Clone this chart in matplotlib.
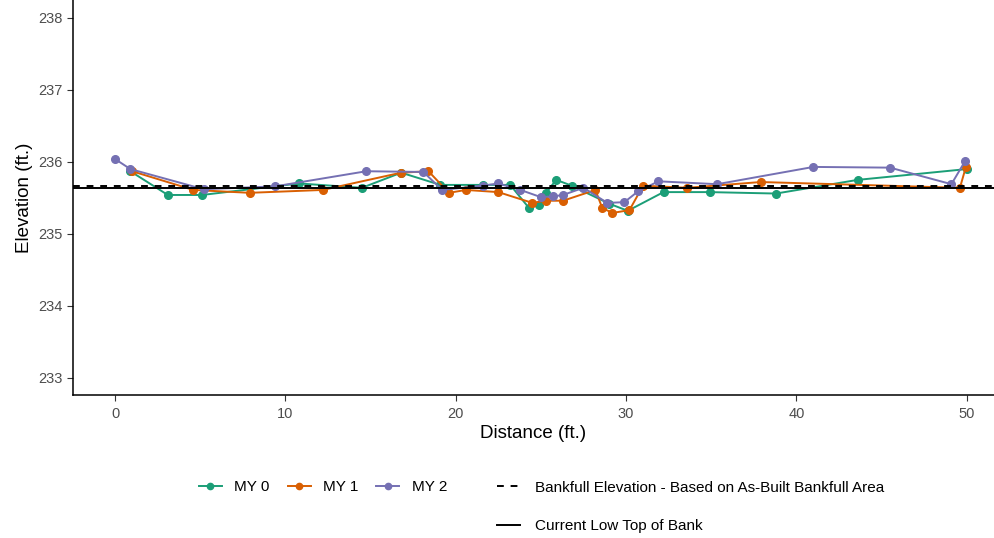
import matplotlib.pyplot as plt
from matplotlib.lines import Line2D

plt.rcParams['font.family'] = ['Liberation Sans', 'DejaVu Sans']

# Cross-section survey data (distance ft, elevation ft)
my0_x = [0.9, 3.1, 5.1, 10.8, 14.5, 16.8, 19.1, 21.6, 23.2, 24.3, 24.9, 25.3, 25.9,
         26.8, 29.0, 30.1, 32.2, 34.9, 38.8, 43.6, 50.0]
my0_y = [235.87, 235.54, 235.54, 235.70, 235.64, 235.85, 235.68, 235.68, 235.68, 235.36,
         235.40, 235.57, 235.75, 235.67, 235.42, 235.32, 235.58, 235.58, 235.56, 235.75, 235.90]

my1_x = [1.0, 4.6, 7.9, 12.2, 16.8, 18.4, 19.6, 20.6, 22.5, 24.5, 25.3, 26.3, 28.2,
         28.6, 29.2, 30.2, 31.0, 33.6, 37.9, 49.6, 49.95]
my1_y = [235.87, 235.61, 235.57, 235.61, 235.85, 235.87, 235.57, 235.61, 235.58, 235.43,
         235.46, 235.46, 235.61, 235.36, 235.29, 235.33, 235.67, 235.64, 235.72, 235.64, 235.93]

my2_x = [0.0, 0.9, 5.2, 9.4, 14.75, 18.1, 19.2, 21.6, 22.5, 23.8, 25.0, 25.7, 26.3,
         27.5, 28.9, 29.9, 30.7, 31.9, 35.35, 41.0, 45.5, 49.1, 49.9]
my2_y = [236.04, 235.90, 235.62, 235.66, 235.87, 235.86, 235.61, 235.67, 235.70, 235.61,
         235.51, 235.52, 235.54, 235.64, 235.43, 235.44, 235.59, 235.73, 235.69, 235.93,
         235.92, 235.69, 236.01]

bankfull_elev = 235.665
low_top_bank = 235.635

colors = ['#1B9E77', '#D95F02', '#7570B3']
labels = ['MY 0', 'MY 1', 'MY 2']

fig = plt.figure(figsize=(9.94, 5.38), dpi=100)
ax = fig.add_axes([0.0734, 0.2658, 0.9266, 0.7342])

for xs, ys, c, lab in zip([my0_x, my1_x, my2_x], [my0_y, my1_y, my2_y], colors, labels):
    ax.plot(xs, ys, color=c, lw=1.4, marker='o', ms=5.5, label=lab, zorder=2)

ax.axhline(low_top_bank, color='black', lw=1.4, zorder=3)
ax.axhline(bankfull_elev, color='black', lw=1.4, ls=(0, (3.5, 3.5)), zorder=4)

ax.set_xlim(-2.47, 51.6)
ax.set_ylim(232.76, 238.25)
ax.set_xticks([0, 10, 20, 30, 40, 50])
ax.set_yticks([233, 234, 235, 236, 237, 238])

for s in ['top', 'right']:
    ax.spines[s].set_visible(False)
for s in ['left', 'bottom']:
    ax.spines[s].set_linewidth(1.1)
ax.tick_params(colors='#333333', labelcolor='#4D4D4D', labelsize=10.5, length=4, width=0.8)
ax.tick_params(axis='x', pad=4.5)

ax.set_xlabel('Distance (ft.)', fontsize=13.5, labelpad=3)
ax.set_ylabel('Elevation (ft.)', fontsize=13.5, labelpad=4)

# Legends
h1 = [Line2D([], [], color=c, lw=1.4, marker='o', ms=4.5) for c in colors]
fig.legend(h1, labels, loc='center left', bbox_to_anchor=(0.2, 0.095), ncol=3,
           frameon=False, fontsize=11, handlelength=1.5, handletextpad=0.8,
           columnspacing=1.2, borderpad=0, borderaxespad=0)

h2 = [Line2D([], [], color='black', lw=1.4, ls=(0, (3.5, 3.5))),
      Line2D([], [], color='black', lw=1.4)]
fig.legend(h2, ['Bankfull Elevation - Based on As-Built Bankfull Area', 'Current Low Top of Bank'],
           loc='center left', bbox_to_anchor=(0.5, 0.058), ncol=1, frameon=False,
           fontsize=11, handlelength=1.5, handletextpad=1.0, labelspacing=1.6,
           borderpad=0, borderaxespad=0)

fig.savefig('out.png', dpi=100)
